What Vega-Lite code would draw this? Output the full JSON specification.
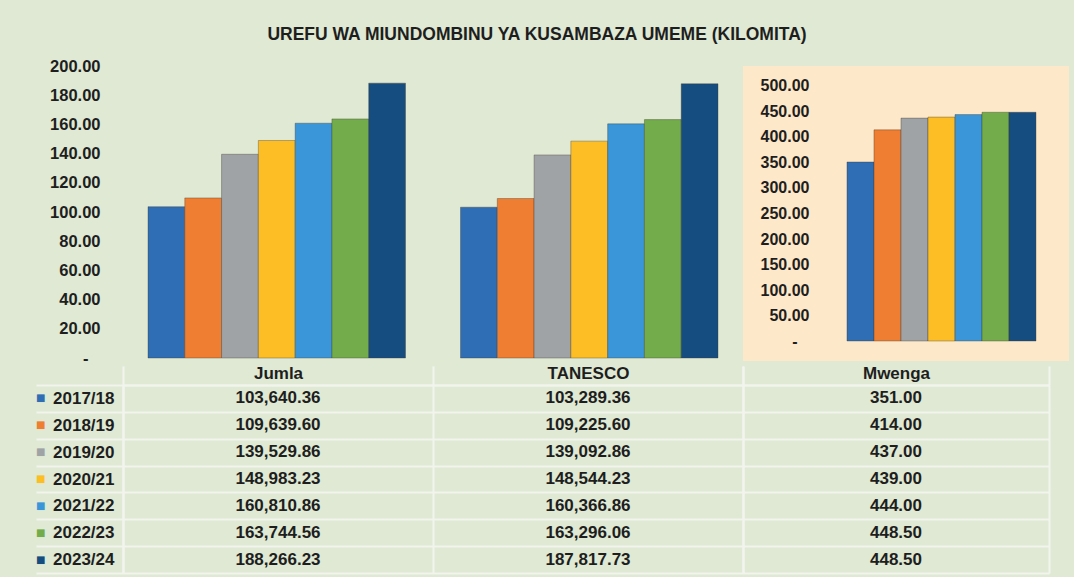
{
  "$schema": "https://vega.github.io/schema/vega-lite/v6.json",
  "background": "#dfe9d3",
  "padding": {"left": 35, "top": 25, "right": 7, "bottom": 5},
  "title": {
    "text": "UREFU WA MIUNDOMBINU  YA KUSAMBAZA UMEME (KILOMITA)",
    "font": "Liberation Sans",
    "fontSize": 17.5,
    "fontWeight": "bold",
    "color": "#1e1e1e",
    "anchor": "middle",
    "offset": 15,
    "dx": -15
  },
  "data": {
    "values": [
      {"kundi": "Jumla", "mwaka": "2017/18", "km": 103640.36},
      {"kundi": "Jumla", "mwaka": "2018/19", "km": 109639.60},
      {"kundi": "Jumla", "mwaka": "2019/20", "km": 139529.86},
      {"kundi": "Jumla", "mwaka": "2020/21", "km": 148983.23},
      {"kundi": "Jumla", "mwaka": "2021/22", "km": 160810.86},
      {"kundi": "Jumla", "mwaka": "2022/23", "km": 163744.56},
      {"kundi": "Jumla", "mwaka": "2023/24", "km": 188266.23},
      {"kundi": "TANESCO", "mwaka": "2017/18", "km": 103289.36},
      {"kundi": "TANESCO", "mwaka": "2018/19", "km": 109225.60},
      {"kundi": "TANESCO", "mwaka": "2019/20", "km": 139092.86},
      {"kundi": "TANESCO", "mwaka": "2020/21", "km": 148544.23},
      {"kundi": "TANESCO", "mwaka": "2021/22", "km": 160366.86},
      {"kundi": "TANESCO", "mwaka": "2022/23", "km": 163296.06},
      {"kundi": "TANESCO", "mwaka": "2023/24", "km": 187817.73},
      {"kundi": "Mwenga", "mwaka": "2017/18", "km": 351.00},
      {"kundi": "Mwenga", "mwaka": "2018/19", "km": 414.00},
      {"kundi": "Mwenga", "mwaka": "2019/20", "km": 437.00},
      {"kundi": "Mwenga", "mwaka": "2020/21", "km": 439.00},
      {"kundi": "Mwenga", "mwaka": "2021/22", "km": 444.00},
      {"kundi": "Mwenga", "mwaka": "2022/23", "km": 448.50},
      {"kundi": "Mwenga", "mwaka": "2023/24", "km": 448.50}
    ]
  },
  "columns": 2,
  "bounds": "flush",
  "spacing": {"row": 24, "column": 0},
  "concat": [
    {
      "width": 620,
      "height": 292,
      "transform": [{"filter": "datum.kundi != 'Mwenga'"}],
      "mark": {"type": "bar", "stroke": "#3b3428", "strokeOpacity": 0.35, "strokeWidth": 1},
      "encoding": {
        "x": {"field": "kundi", "type": "nominal", "sort": ["Jumla", "TANESCO"], "scale": {"paddingInner": 0.176, "paddingOuter": 0.08}, "axis": null},
        "xOffset": {"field": "mwaka", "type": "ordinal", "scale": {"paddingInner": 0, "paddingOuter": 0}},
        "y": {
          "field": "km", "type": "quantitative",
          "scale": {"domain": [0, 200000], "nice": false},
          "axis": {
            "title": null, "grid": false, "ticks": false, "domain": false,
            "values": [0, 20000, 40000, 60000, 80000, 100000, 120000, 140000, 160000, 180000, 200000],
            "labelExpr": "datum.value == 0 ? '-\u2800' : format(datum.value / 1000, '.2f')",
            "labelFont": "Liberation Sans", "labelFontSize": 16.5, "labelFontWeight": "bold", "labelColor": "#1e1e1e",
            "labelPadding": 23
          }
        },
        "color": {
          "field": "mwaka", "type": "ordinal",
          "scale": {"domain": ["2017/18", "2018/19", "2019/20", "2020/21", "2021/22", "2022/23", "2023/24"], "range": ["#2f6db5", "#ef7d32", "#9fa3a6", "#fcbe24", "#3a96d8", "#72ac4b", "#164d80"]},
          "legend": null
        }
      }
    },
    {
      "width": 326,
      "height": 295,
      "view": {"fill": "#fde8c9", "stroke": null},
      "transform": [{"filter": "datum.kundi == 'Mwenga'"}],
      "mark": {"type": "bar", "stroke": "#3b3428", "strokeOpacity": 0.35, "strokeWidth": 1},
      "encoding": {
        "x": {"field": "kundi", "type": "nominal", "scale": {"paddingInner": 0, "paddingOuter": 0.3624, "align": 0.759}, "axis": null},
        "xOffset": {"field": "mwaka", "type": "ordinal", "scale": {"paddingInner": 0, "paddingOuter": 0}},
        "y": {
          "field": "km", "type": "quantitative",
          "scale": {"domain": [-39.2, 539.2], "nice": false, "zero": false},
          "axis": {
            "title": null, "grid": false, "ticks": false, "domain": false,
            "values": [0, 50, 100, 150, 200, 250, 300, 350, 400, 450, 500],
            "labelExpr": "datum.value == 0 ? '-\u2800' : format(datum.value, '.2f')",
            "labelFont": "Liberation Sans", "labelFontSize": 16, "labelFontWeight": "bold", "labelColor": "#1e1e1e",
            "offset": -70, "labelPadding": 4
          }
        },
        "y2": {"datum": 0},
        "color": {
          "field": "mwaka", "type": "ordinal",
          "scale": {"domain": ["2017/18", "2018/19", "2019/20", "2020/21", "2021/22", "2022/23", "2023/24"], "range": ["#2f6db5", "#ef7d32", "#9fa3a6", "#fcbe24", "#3a96d8", "#72ac4b", "#164d80"]},
          "legend": null
        }
      }
    },
    {
      "width": 620,
      "height": 188,
      "transform": [{"filter": "datum.kundi != 'Mwenga'"}],
      "layer": [
        {
          "mark": {"type": "text", "font": "Liberation Sans", "fontSize": 17, "fontWeight": "bold", "color": "#1e1e1e"},
          "encoding": {
            "x": {
              "field": "kundi", "type": "nominal", "sort": ["Jumla", "TANESCO"],
              "scale": {"type": "band", "paddingInner": 0, "paddingOuter": 0},
              "axis": {
                "orient": "top", "title": null,
                "labelFont": "Liberation Sans", "labelFontSize": 17, "labelFontWeight": "bold", "labelColor": "#1e1e1e",
                "labelBaseline": "middle", "labelAngle": 0, "labelPadding": -7,
                "tickBand": "extent", "ticks": true, "tickSize": 19, "tickColor": "#f2f5ee", "tickWidth": 2,
                "domain": true, "domainColor": "#f2f5ee", "domainWidth": 2,
                "grid": true, "gridColor": "#f2f5ee", "gridWidth": 2, "gridOpacity": 1
              }
            },
            "y": {
              "field": "mwaka", "type": "ordinal",
              "scale": {"type": "band", "paddingInner": 0, "paddingOuter": 0},
              "axis": {
                "orient": "left", "title": null,
                "labelFont": "Liberation Sans", "labelFontSize": 17, "labelFontWeight": "bold", "labelColor": "#1e1e1e",
                "labelAlign": "right", "labelBaseline": "middle", "labelPadding": -78,
                "tickBand": "extent", "ticks": true, "tickSize": 87, "tickColor": "#f2f5ee", "tickWidth": 2,
                "domain": true, "domainColor": "#f2f5ee", "domainWidth": 2,
                "grid": true, "gridColor": "#f2f5ee", "gridWidth": 2, "gridOpacity": 1
              }
            },
            "text": {"field": "km", "type": "quantitative", "format": ",.2f"}
          }
        },
        {
          "mark": {"type": "text", "text": ""},
          "encoding": {
            "y": {
              "field": "mwaka", "type": "ordinal",
              "axis": {
                "orient": "left", "title": null, "offset": 78,
                "labelExpr": "'■'",
                "labelFont": "DejaVu Sans", "labelFontSize": 10,
                "labelColor": {
                  "condition": [
                    {"test": "datum.value == '2017/18'", "value": "#2f6db5"},
                    {"test": "datum.value == '2018/19'", "value": "#ef7d32"},
                    {"test": "datum.value == '2019/20'", "value": "#9fa3a6"},
                    {"test": "datum.value == '2020/21'", "value": "#fcbe24"},
                    {"test": "datum.value == '2021/22'", "value": "#3a96d8"},
                    {"test": "datum.value == '2022/23'", "value": "#72ac4b"}
                  ],
                  "value": "#164d80"
                },
                "labelAlign": "right", "labelBaseline": "middle", "labelPadding": 0,
                "ticks": false, "domain": false, "grid": false
              }
            }
          }
        }
      ],
      "resolve": {"axis": {"y": "independent"}}
    },
    {
      "width": 306,
      "height": 188,
      "transform": [{"filter": "datum.kundi == 'Mwenga'"}],
      "mark": {"type": "text", "font": "Liberation Sans", "fontSize": 17, "fontWeight": "bold", "color": "#1e1e1e"},
      "encoding": {
        "x": {
          "field": "kundi", "type": "nominal",
          "scale": {"type": "band", "paddingInner": 0, "paddingOuter": 0},
          "axis": {
            "orient": "top", "title": null,
            "labelFont": "Liberation Sans", "labelFontSize": 17, "labelFontWeight": "bold", "labelColor": "#1e1e1e",
            "labelBaseline": "middle", "labelAngle": 0, "labelPadding": -7,
            "tickBand": "extent", "ticks": true, "tickSize": 19, "tickColor": "#f2f5ee", "tickWidth": 2,
            "domain": true, "domainColor": "#f2f5ee", "domainWidth": 2,
            "grid": true, "gridColor": "#f2f5ee", "gridWidth": 2, "gridOpacity": 1
          }
        },
        "y": {
          "field": "mwaka", "type": "ordinal",
          "scale": {"type": "band", "paddingInner": 0, "paddingOuter": 0},
          "axis": {
            "orient": "left", "title": null, "labels": false,
            "tickBand": "extent", "ticks": false, "domain": false,
            "grid": true, "gridColor": "#f2f5ee", "gridWidth": 2, "gridOpacity": 1
          }
        },
        "text": {"field": "km", "type": "quantitative", "format": ",.2f"}
      }
    }
  ],
  "resolve": {"scale": {"x": "independent", "y": "independent", "xOffset": "independent"}},
  "config": {"view": {"stroke": null}}
}
